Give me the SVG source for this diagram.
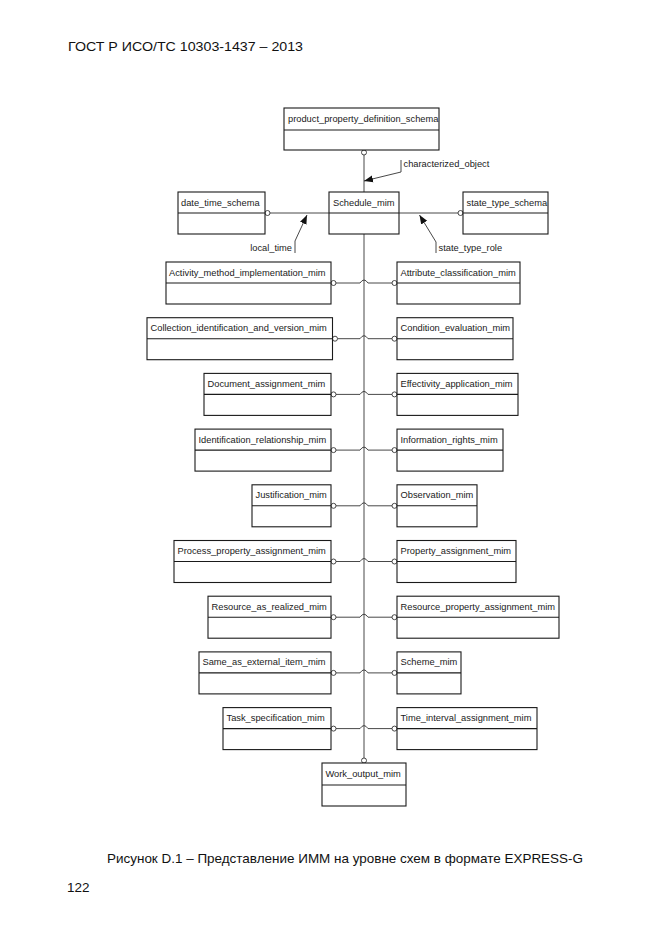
<svg xmlns="http://www.w3.org/2000/svg" width="661" height="935" viewBox="0 0 661 935">
<style>
  .box { fill: #fff; stroke: #1a1a1a; stroke-width: 1.1; }
  .div { stroke: #1a1a1a; stroke-width: 1.1; }
  .lbl { font-family: "Liberation Sans", Arial, sans-serif; font-size: 9.3px; fill: #1a1a1a; }
  .con { fill: none; stroke: #333; stroke-width: 0.9; }
  .ring { fill: #fff; stroke: #333; stroke-width: 0.9; }
  .page { font-family: "Liberation Sans", Arial, sans-serif; fill: #111; }
</style>
<defs>
  <marker id="arr" markerUnits="userSpaceOnUse" markerWidth="10" markerHeight="8" refX="9" refY="3.5" orient="auto" viewBox="0 0 10 7">
    <path d="M0,0 L9,3.5 L0,7 Z" fill="#111"/>
  </marker>
</defs>
<rect width="661" height="935" fill="#fff"/>

<text class="page" x="68" y="51" font-size="13.7" textLength="235" lengthAdjust="spacingAndGlyphs">ГОСТ Р ИСО/ТС 10303-1437 – 2013</text>

<g id="connectors">
  <circle class="ring" cx="364" cy="152.5" r="2.5"/>
  <line class="con" x1="364" y1="155" x2="364" y2="192"/>
  <path class="con" d="M401,160 V172 L364,181" marker-end="url(#arr)"/>
  <circle class="ring" cx="267.5" cy="213" r="2.5"/>
  <circle class="ring" cx="460.5" cy="213" r="2.5"/>
  <line class="con" x1="270" y1="213" x2="329" y2="213"/>
  <line class="con" x1="399" y1="213" x2="458" y2="213"/>
  <path class="con" d="M295,253 V241 L307,215" marker-end="url(#arr)"/>
  <path class="con" d="M436,253 V242 L419.5,215" marker-end="url(#arr)"/>
  <line class="con" x1="364" y1="234" x2="364" y2="758"/>
  <circle class="ring" cx="364" cy="760.5" r="2.5"/>
  <g id="hops">
    <path class="con" d="M336,283 H360 Q364,277 368,283 H392"/>
    <circle class="ring" cx="333.5" cy="283" r="2.5"/><circle class="ring" cx="394.5" cy="283" r="2.5"/>
    <path class="con" d="M337.5,338.7 H360 Q364,332.7 368,338.7 H392"/>
    <circle class="ring" cx="335" cy="338.7" r="2.5"/><circle class="ring" cx="394.5" cy="338.7" r="2.5"/>
    <path class="con" d="M336,394.4 H360 Q364,388.4 368,394.4 H392"/>
    <circle class="ring" cx="333.5" cy="394.4" r="2.5"/><circle class="ring" cx="394.5" cy="394.4" r="2.5"/>
    <path class="con" d="M336,450.1 H360 Q364,444.1 368,450.1 H392"/>
    <circle class="ring" cx="333.5" cy="450.1" r="2.5"/><circle class="ring" cx="394.5" cy="450.1" r="2.5"/>
    <path class="con" d="M336,505.8 H360 Q364,499.8 368,505.8 H392"/>
    <circle class="ring" cx="333.5" cy="505.8" r="2.5"/><circle class="ring" cx="394.5" cy="505.8" r="2.5"/>
    <path class="con" d="M336,561.5 H360 Q364,555.5 368,561.5 H392"/>
    <circle class="ring" cx="333.5" cy="561.5" r="2.5"/><circle class="ring" cx="394.5" cy="561.5" r="2.5"/>
    <path class="con" d="M336,617.2 H360 Q364,611.2 368,617.2 H392"/>
    <circle class="ring" cx="333.5" cy="617.2" r="2.5"/><circle class="ring" cx="394.5" cy="617.2" r="2.5"/>
    <path class="con" d="M336,672.9 H360 Q364,666.9 368,672.9 H392"/>
    <circle class="ring" cx="333.5" cy="672.9" r="2.5"/><circle class="ring" cx="394.5" cy="672.9" r="2.5"/>
    <path class="con" d="M336,728.6 H360 Q364,722.6 368,728.6 H392"/>
    <circle class="ring" cx="333.5" cy="728.6" r="2.5"/><circle class="ring" cx="394.5" cy="728.6" r="2.5"/>
  </g>
  <text class="lbl" x="403.5" y="167">characterized_object</text>
  <text class="lbl" x="292" y="250.5" text-anchor="end">local_time</text>
  <text class="lbl" x="438.5" y="250.5">state_type_role</text>
</g>

<g id="n_product_property_definition_schema">
  <rect class="box" x="284" y="108" width="155" height="42"/><line class="div" x1="284" y1="130" x2="439" y2="130"/>
  <text class="lbl" x="288" y="122">product_property_definition_schema</text>
</g>
<g id="n_Schedule_mim">
  <rect class="box" x="329" y="192" width="70" height="42"/><line class="div" x1="329" y1="213" x2="399" y2="213"/>
  <text class="lbl" x="333" y="205.5">Schedule_mim</text>
</g>
<g id="n_date_time_schema">
  <rect class="box" x="178" y="192" width="87" height="42"/><line class="div" x1="178" y1="213" x2="265" y2="213"/>
  <text class="lbl" x="181" y="205.5">date_time_schema</text>
</g>
<g id="n_state_type_schema">
  <rect class="box" x="463" y="192" width="85" height="42"/><line class="div" x1="463" y1="213" x2="548" y2="213"/>
  <text class="lbl" x="466.5" y="205.5">state_type_schema</text>
</g>

<g id="n_Activity_method_implementation_mim">
  <rect class="box" x="166" y="262" width="165" height="42"/><line class="div" x1="166" y1="283" x2="331" y2="283"/>
  <text class="lbl" x="169" y="275.5">Activity_method_implementation_mim</text>
</g>
<g id="n_Attribute_classification_mim">
  <rect class="box" x="397" y="262" width="123" height="42"/><line class="div" x1="397" y1="283" x2="520" y2="283"/>
  <text class="lbl" x="400.5" y="275.5">Attribute_classification_mim</text>
</g>
<g id="n_Collection_identification_and_version_mim">
  <rect class="box" x="147" y="317.7" width="185.5" height="42"/><line class="div" x1="147" y1="338.7" x2="332.5" y2="338.7"/>
  <text class="lbl" x="150.5" y="331.2">Collection_identification_and_version_mim</text>
</g>
<g id="n_Condition_evaluation_mim">
  <rect class="box" x="397" y="317.7" width="116" height="42"/><line class="div" x1="397" y1="338.7" x2="513" y2="338.7"/>
  <text class="lbl" x="400.5" y="331.2">Condition_evaluation_mim</text>
</g>
<g id="n_Document_assignment_mim">
  <rect class="box" x="204" y="373.4" width="127" height="42"/><line class="div" x1="204" y1="394.4" x2="331" y2="394.4"/>
  <text class="lbl" x="207.5" y="386.9">Document_assignment_mim</text>
</g>
<g id="n_Effectivity_application_mim">
  <rect class="box" x="397" y="373.4" width="121" height="42"/><line class="div" x1="397" y1="394.4" x2="518" y2="394.4"/>
  <text class="lbl" x="400.5" y="386.9">Effectivity_application_mim</text>
</g>
<g id="n_Identification_relationship_mim">
  <rect class="box" x="195" y="429.1" width="136" height="42"/><line class="div" x1="195" y1="450.1" x2="331" y2="450.1"/>
  <text class="lbl" x="198.5" y="442.6">Identification_relationship_mim</text>
</g>
<g id="n_Information_rights_mim">
  <rect class="box" x="397" y="429.1" width="106" height="42"/><line class="div" x1="397" y1="450.1" x2="503" y2="450.1"/>
  <text class="lbl" x="400.5" y="442.6">Information_rights_mim</text>
</g>
<g id="n_Justification_mim">
  <rect class="box" x="252" y="484.8" width="79" height="42"/><line class="div" x1="252" y1="505.8" x2="331" y2="505.8"/>
  <text class="lbl" x="255.5" y="498.3">Justification_mim</text>
</g>
<g id="n_Observation_mim">
  <rect class="box" x="397" y="484.8" width="80" height="42"/><line class="div" x1="397" y1="505.8" x2="477" y2="505.8"/>
  <text class="lbl" x="400.5" y="498.3">Observation_mim</text>
</g>
<g id="n_Process_property_assignment_mim">
  <rect class="box" x="174" y="540.5" width="157" height="42"/><line class="div" x1="174" y1="561.5" x2="331" y2="561.5"/>
  <text class="lbl" x="177.5" y="554">Process_property_assignment_mim</text>
</g>
<g id="n_Property_assignment_mim">
  <rect class="box" x="397" y="540.5" width="119" height="42"/><line class="div" x1="397" y1="561.5" x2="516" y2="561.5"/>
  <text class="lbl" x="400.5" y="554">Property_assignment_mim</text>
</g>
<g id="n_Resource_as_realized_mim">
  <rect class="box" x="208" y="596.2" width="123" height="42"/><line class="div" x1="208" y1="617.2" x2="331" y2="617.2"/>
  <text class="lbl" x="211.5" y="609.7">Resource_as_realized_mim</text>
</g>
<g id="n_Resource_property_assignment_mim">
  <rect class="box" x="397" y="596.2" width="162" height="42"/><line class="div" x1="397" y1="617.2" x2="559" y2="617.2"/>
  <text class="lbl" x="400.5" y="609.7">Resource_property_assignment_mim</text>
</g>
<g id="n_Same_as_external_item_mim">
  <rect class="box" x="199" y="651.9" width="132" height="42"/><line class="div" x1="199" y1="672.9" x2="331" y2="672.9"/>
  <text class="lbl" x="202.5" y="665.4">Same_as_external_item_mim</text>
</g>
<g id="n_Scheme_mim">
  <rect class="box" x="397" y="651.9" width="64" height="42"/><line class="div" x1="397" y1="672.9" x2="461" y2="672.9"/>
  <text class="lbl" x="400.5" y="665.4">Scheme_mim</text>
</g>
<g id="n_Task_specification_mim">
  <rect class="box" x="223" y="707.6" width="108" height="42"/><line class="div" x1="223" y1="728.6" x2="331" y2="728.6"/>
  <text class="lbl" x="226.5" y="721.1">Task_specification_mim</text>
</g>
<g id="n_Time_interval_assignment_mim">
  <rect class="box" x="397" y="707.6" width="140" height="42"/><line class="div" x1="397" y1="728.6" x2="537" y2="728.6"/>
  <text class="lbl" x="400.5" y="721.1">Time_interval_assignment_mim</text>
</g>
<g id="n_Work_output_mim">
  <rect class="box" x="322" y="763" width="84" height="43"/><line class="div" x1="322" y1="785" x2="406" y2="785"/>
  <text class="lbl" x="325.5" y="776.5">Work_output_mim</text>
</g>

<text class="page" x="107" y="863" font-size="12.8" textLength="476" lengthAdjust="spacingAndGlyphs">Рисунок D.1 –  Представление ИММ на уровне схем в формате EXPRESS-G</text>
<text class="page" x="67" y="892" font-size="13.5">122</text>
</svg>
